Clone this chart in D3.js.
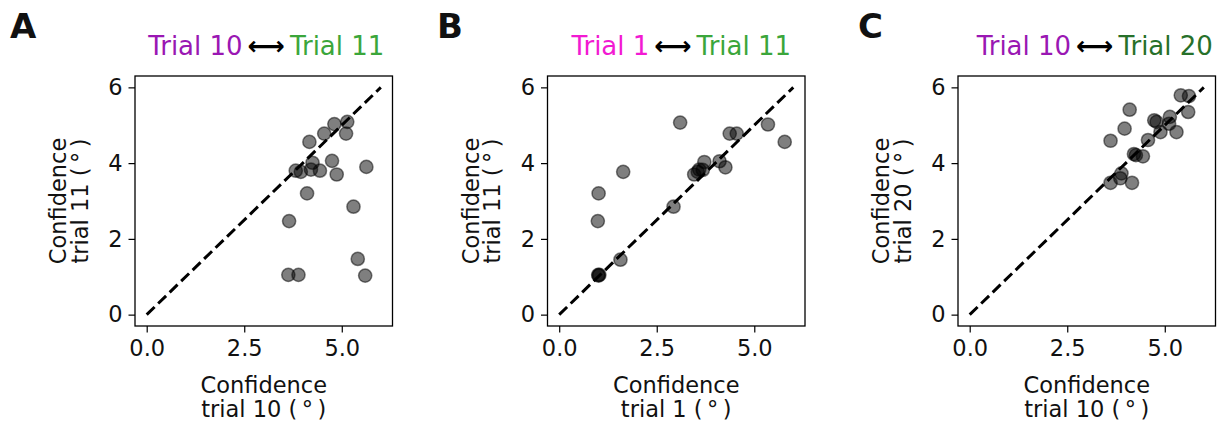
<!DOCTYPE html>
<html>
<head>
<meta charset="utf-8">
<script src="https://cdn.jsdelivr.net/npm/d3@7"></script>
<style>
  html, body { margin: 0; padding: 0; background: #fff; }
  svg { display: block; font-family: "DejaVu Sans", sans-serif; }
</style>
</head>
<body>
<svg id="fig" width="1222" height="421"></svg>
<script>
// Confidence (deg) per participant, pairs of trials
const panelA_x = [3.63, 3.89, 3.65, 4.11, 3.82, 3.95, 4.21, 4.25, 4.44, 4.17, 4.55, 4.81, 5.14, 5.11, 4.75, 4.87, 5.63, 5.30, 5.41, 5.60];
const panelA_y = [1.05, 1.05, 2.47, 3.20, 3.80, 3.77, 3.83, 4.01, 3.80, 4.56, 4.78, 5.03, 5.09, 4.78, 4.06, 3.70, 3.90, 2.85, 1.47, 1.03];

const panelB_x = [1.00, 1.03, 1.01, 1.57, 0.99, 1.01, 1.64, 3.10, 2.93, 3.46, 3.55, 3.59, 3.68, 3.72, 4.11, 4.26, 4.37, 4.55, 5.35, 5.78];
const panelB_y = [1.05, 1.05, 1.03, 1.45, 2.47, 3.20, 3.77, 5.07, 2.85, 3.70, 3.77, 3.83, 3.82, 4.03, 4.05, 3.89, 4.78, 4.78, 5.02, 4.56];

const panelC_x = [3.61, 3.86, 3.89, 4.16, 3.61, 3.97, 4.10, 4.21, 4.26, 4.44, 4.57, 4.73, 4.79, 4.89, 5.13, 5.11, 5.30, 5.41, 5.62, 5.60];
const panelC_y = [3.48, 3.60, 3.73, 3.48, 4.59, 4.91, 5.41, 4.24, 4.21, 4.18, 4.61, 5.13, 5.09, 4.82, 5.22, 5.04, 4.82, 5.79, 5.77, 5.35];

const panelLetters = ["A", "B", "C"];
const trialX = ["10", "1", "10"];
const trialY = ["11", "11", "20"];
const trialColors = { "1": "#f21ad2", "10": "#9a17b3", "11": "#3ba63b", "20": "#27702a" };

const xTicks = [0, 2.5, 5.0];
const yTicks = [0, 2, 4, 6];
const axisDomain = [-0.3, 6.3];
const identityLine = [0, 6];

const panels = [
  { xs: panelA_x, ys: panelA_y },
  { xs: panelB_x, ys: panelB_y },
  { xs: panelC_x, ys: panelC_y }
];

// layout
const axLeft = [135, 547.5, 958];
const axTop = 76, axW = 257.5, axH = 250;
const titleShift = [2.5, 5, 8];
const fs = 22.5;
const deg = "(\u2009\u00B0\u2009)";

const svg = d3.select("#fig");

panels.forEach((p, i) => {
  const L = axLeft[i];
  const x = d3.scaleLinear().domain(axisDomain).range([L, L + axW]);
  const y = d3.scaleLinear().domain(axisDomain).range([axTop + axH, axTop]);
  const g = svg.append("g");

  // identity reference line
  g.append("line")
    .attr("x1", x(identityLine[0])).attr("y1", y(identityLine[0]))
    .attr("x2", x(identityLine[1])).attr("y2", y(identityLine[1]))
    .attr("stroke", "#000").attr("stroke-width", 3)
    .attr("stroke-dasharray", "11,5");

  // participants
  g.selectAll("circle").data(p.xs.map((v, k) => [v, p.ys[k]])).enter()
    .append("circle")
    .attr("cx", d => x(d[0])).attr("cy", d => y(d[1]))
    .attr("r", 6.6)
    .attr("fill", "#000").attr("fill-opacity", 0.5)
    .attr("stroke", "#000").attr("stroke-opacity", 0.5).attr("stroke-width", 1.5);

  // axes box
  g.append("rect")
    .attr("x", L).attr("y", axTop).attr("width", axW).attr("height", axH)
    .attr("fill", "none").attr("stroke", "#000").attr("stroke-width", 1.3);

  const xAxis = g.append("g")
    .attr("transform", `translate(0,${axTop + axH})`)
    .call(d3.axisBottom(x).tickValues(xTicks).tickFormat(d3.format(".1f")).tickSize(6.5).tickPadding(5));
  const yAxis = g.append("g")
    .attr("transform", `translate(${L},0)`)
    .call(d3.axisLeft(y).tickValues(yTicks).tickFormat(d3.format("d")).tickSize(6.5).tickPadding(6));
  [xAxis, yAxis].forEach(a => {
    a.select(".domain").remove();
    a.selectAll(".tick line").attr("stroke", "#000").attr("stroke-width", 1.2);
    a.selectAll(".tick text").attr("font-size", fs).attr("font-family", "DejaVu Sans").attr("fill", "#111");
  });
  xAxis.selectAll(".tick text").attr("dy", "0.8em");

  // x label (two lines)
  const cx = L + axW / 2;
  g.append("text").attr("text-anchor", "middle").attr("font-size", fs).attr("fill", "#111")
    .attr("x", cx).attr("y", 393).text("Confidence");
  g.append("text").attr("text-anchor", "middle").attr("font-size", fs).attr("fill", "#111")
    .attr("x", cx).attr("y", 416.5).text(`trial ${trialX[i]} ${deg}`);

  // y label (two lines, rotated)
  const cy = axTop + axH / 2;
  g.append("text").attr("text-anchor", "middle").attr("font-size", fs).attr("fill", "#111")
    .attr("transform", `translate(${L - 69},${cy}) rotate(-90)`).text("Confidence");
  g.append("text").attr("text-anchor", "middle").attr("font-size", fs).attr("fill", "#111")
    .attr("transform", `translate(${L - 47.5},${cy}) rotate(-90)`).text(`trial ${trialY[i]} ${deg}`);

  // title
  const t = g.append("text").attr("text-anchor", "middle").attr("font-size", 26)
    .attr("x", cx + titleShift[i]).attr("y", 55);
  t.append("tspan").attr("fill", trialColors[trialX[i]]).text(`Trial ${trialX[i]}`);
  t.append("tspan").attr("fill", "#000").attr("dx", 5).attr("font-weight", "bold").text("\u27F7");
  t.append("tspan").attr("fill", trialColors[trialY[i]]).attr("dx", 5).text(`Trial ${trialY[i]}`);

  // panel letter
  svg.append("text").attr("x", [10, 437, 858][i]).attr("y", 37.5)
    .attr("font-size", 34).attr("font-weight", "bold").attr("fill", "#111")
    .text(panelLetters[i]);
});
</script>
</body>
</html>
